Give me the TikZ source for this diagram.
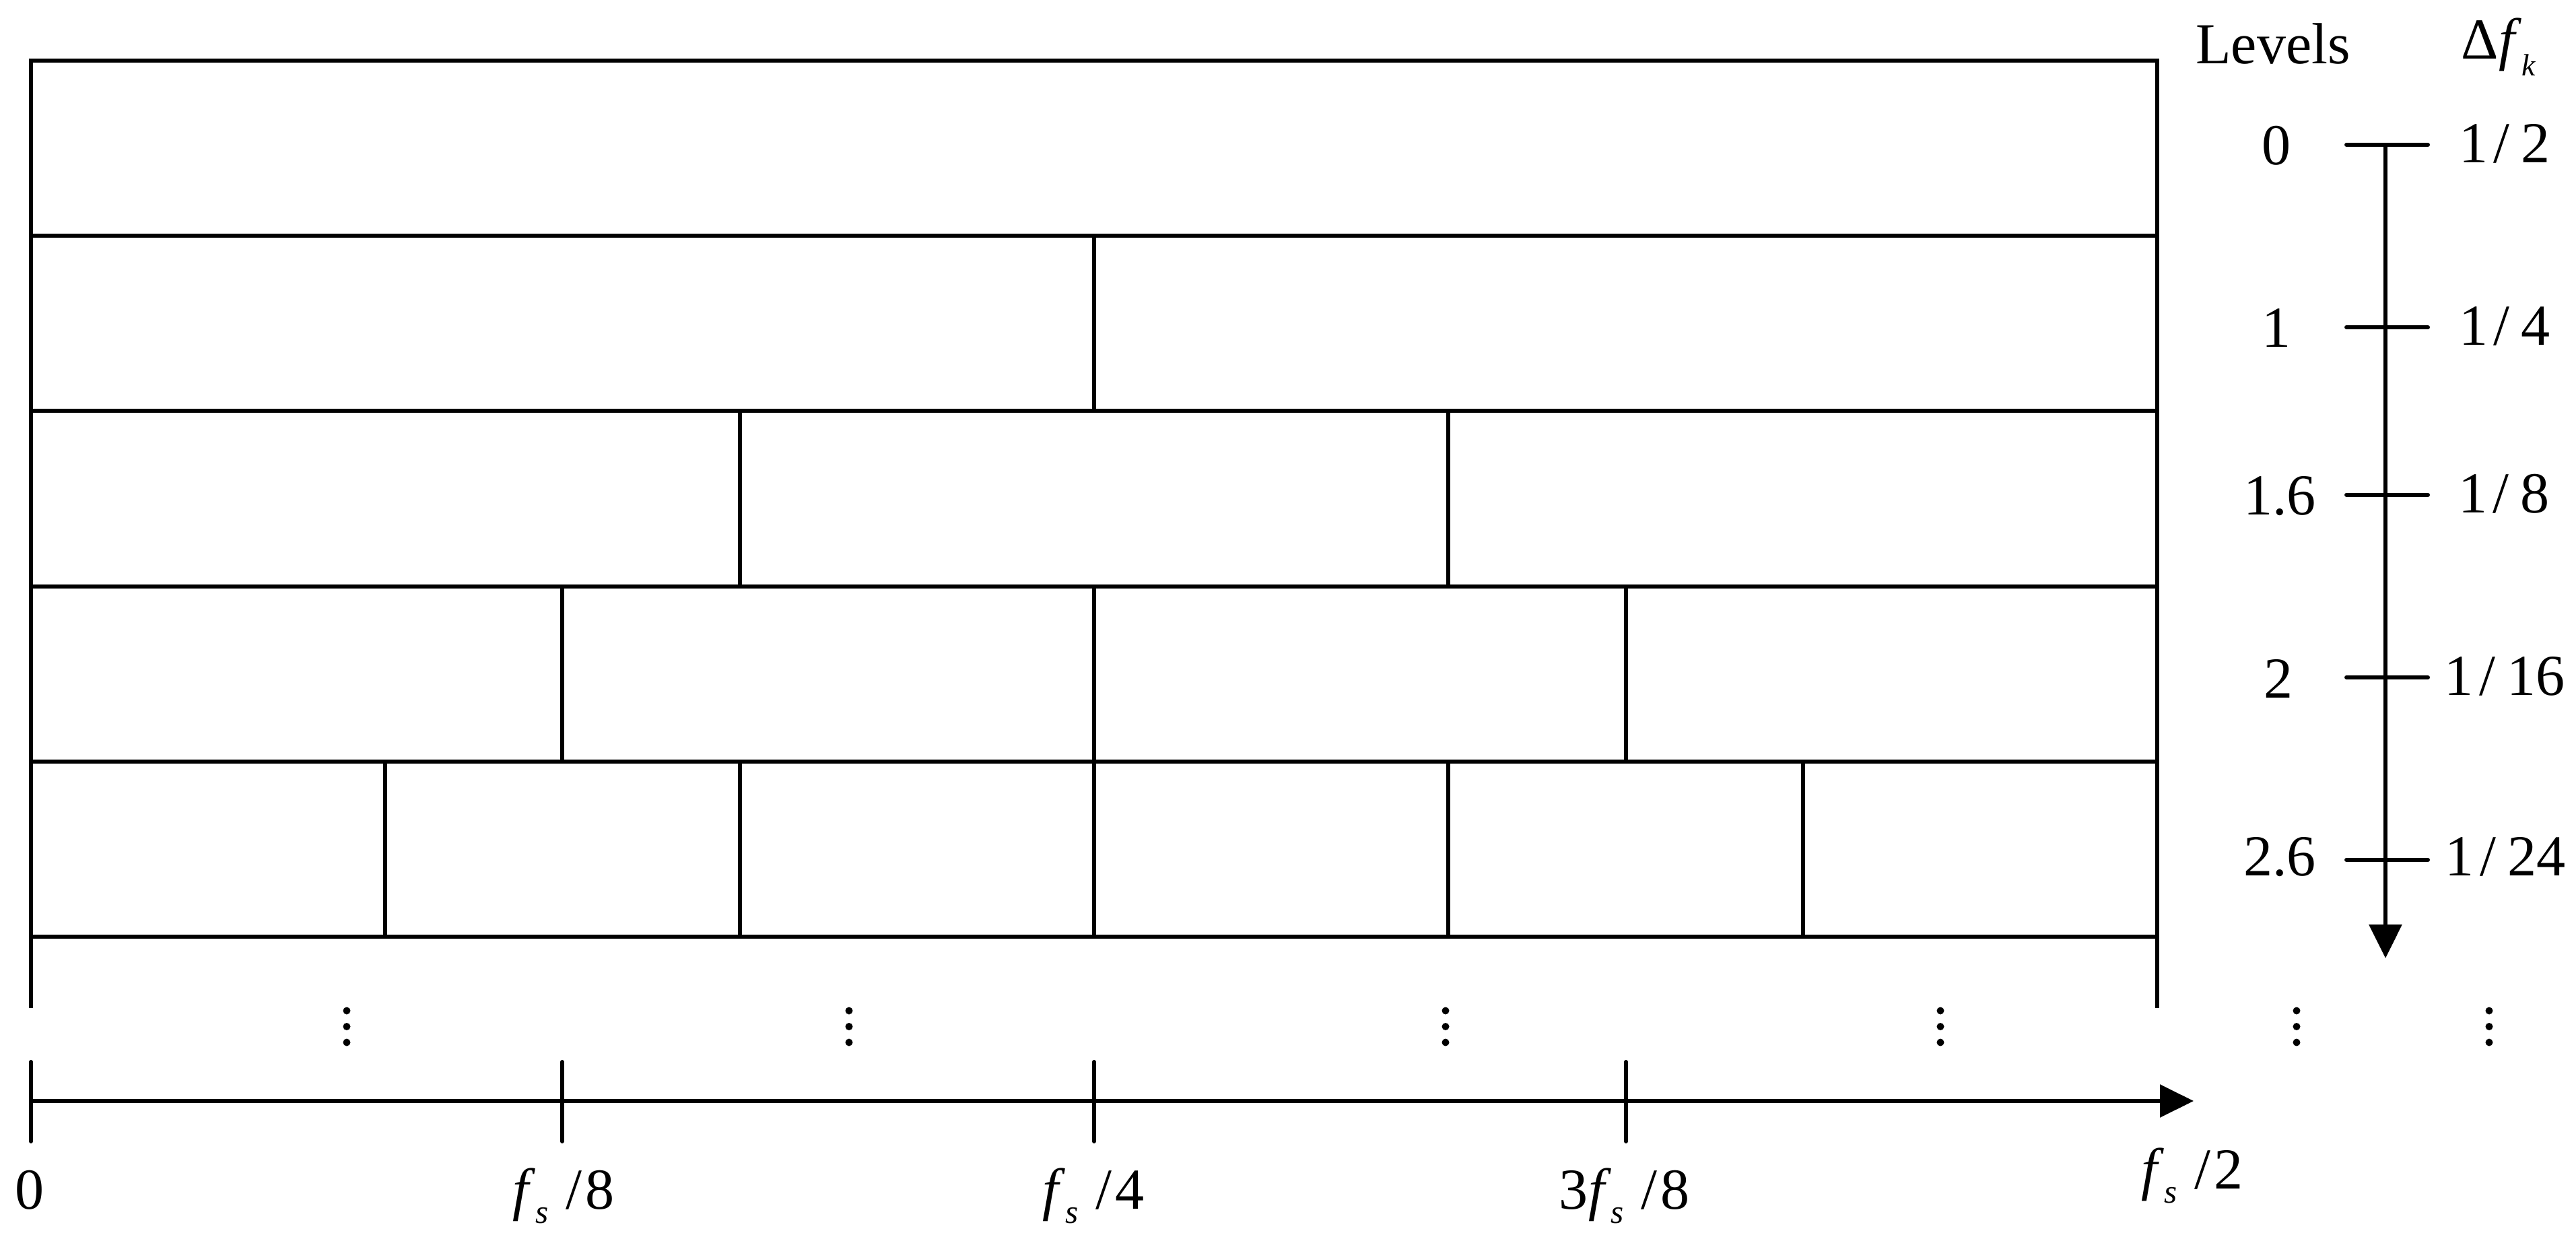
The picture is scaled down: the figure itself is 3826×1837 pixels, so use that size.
\documentclass[tikz,border=0pt]{standalone}
\usepackage{fontspec}
\setmainfont{Liberation Serif}
\usetikzlibrary{arrows.meta}
\newcommand{\fsb}{\textit{f}\raisebox{-6.2pt}{\fontsize{14}{14}\selectfont\textit{s}}}
\newcommand{\fslash}[1]{\hspace{0.3em}/\hspace{0.06em}#1}
\newcommand{\slashgap}[1]{\hspace{0.1em}/\hspace{0.2em}#1}
\begin{document}
\begin{tikzpicture}[x=0.01cm,y=-0.01cm,
  gridline/.style={line width=1.7pt, line join=miter},
  tickline/.style={line width=1.7pt, line cap=round},
  axisarrow/.style={line width=1.7pt, -{Triangle[length=0.5cm,width=0.48cm]}},
  lbl/.style={font=\fontsize{24.5}{29}\selectfont, inner sep=0pt, anchor=base},
  dotmark/.style={fill=black, draw=none}]
\useasboundingbox (0,0) rectangle (3826,1837);

% outer frame
\draw[gridline] (46,1497) -- (46,90) -- (3204,90) -- (3204,1497);
% horizontal band lines
\foreach \yy in {350.2,610.4,870.6,1130.8,1391}
  \draw[gridline] (46,\yy) -- (3204,\yy);
% dividers
\draw[gridline] (1625,350.2) -- (1625,610.4);
\foreach \xx in {1099,2151} \draw[gridline] (\xx,610.4) -- (\xx,870.6);
\foreach \xx in {835,1625,2415} \draw[gridline] (\xx,870.6) -- (\xx,1130.8);
\foreach \xx in {572,1099,1625,2151,2678} \draw[gridline] (\xx,1130.8) -- (\xx,1391);

% vertical dots
\foreach \xx in {515,1261,2147,2882,3411,3697}
  \foreach \yy in {1501,1524.5,1548}
    \fill[dotmark] (\xx,\yy) circle (0.055cm);

% frequency axis
\coordinate (fx0) at (46,1635);
\coordinate (fxend) at (3258,1635);
\draw[axisarrow] (fx0) -- (fxend);
\foreach \xx in {46,835,1625,2415}
  \draw[tickline] (\xx,1577) -- (\xx,1695);
\node[lbl] (l0) at (44,1795) {0};
\node[lbl] (l1) at (837,1795) {\fsb\fslash{8}};
\node[lbl] (l2) at (1624,1795) {\fsb\fslash{4}};
\node[lbl] (l3) at (2413,1795) {3\fsb\fslash{8}};
\node[lbl] (l4) at (3256,1765) {\fsb\fslash{2}};

% level axis
\coordinate (lv0) at (3543,215);
\coordinate (lvend) at (3543,1423);
\draw[axisarrow] (lv0) -- (lvend);
\foreach \yy in {215,486,735,1006,1277}
  \draw[tickline] (3485,\yy) -- (3606,\yy);

\node[lbl] (hlev) at (3376,95) {Levels};
\node[lbl] (hdf) at (3711,88) {Δ\textit{f}\raisebox{-7pt}{\fontsize{13}{13}\selectfont\textit{k}}};

\node[lbl] (v0) at (3381,245) {0};
\node[lbl] (v1) at (3381,516) {1};
\node[lbl] (v2) at (3386,765) {1.6};
\node[lbl] (v3) at (3384,1036) {2};
\node[lbl] (v4) at (3386,1300) {2.6};

\node[lbl] (d0) at (3720,242) {1\slashgap{2}};
\node[lbl] (d1) at (3720,513) {1\slashgap{4}};
\node[lbl] (d2) at (3719,762) {1\slashgap{8}};
\node[lbl] (d3) at (3720,1033) {1\slashgap{16}};
\node[lbl] (d4) at (3721,1300) {1\slashgap{24}};
\end{tikzpicture}
\end{document}
